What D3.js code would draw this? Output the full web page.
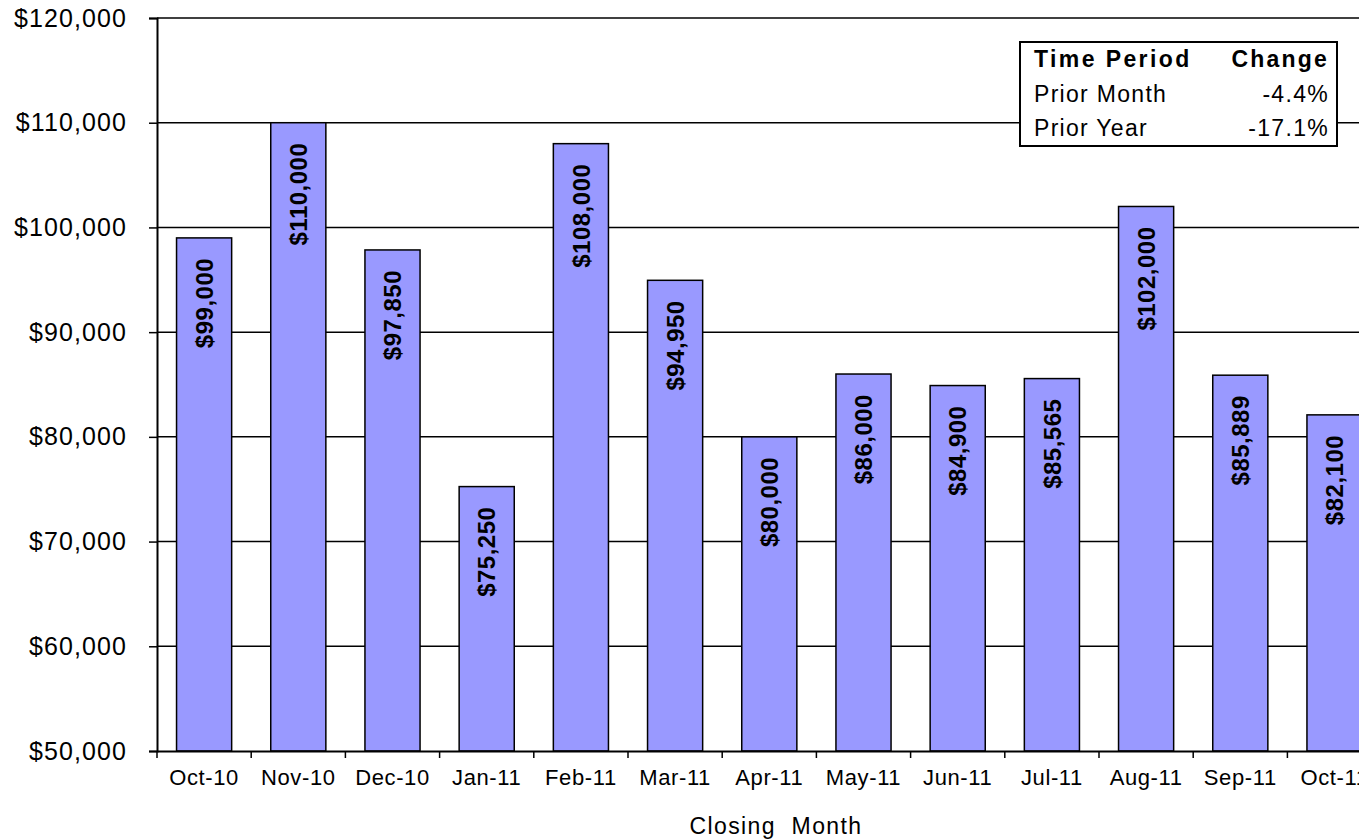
<!DOCTYPE html>
<html>
<head>
<meta charset="utf-8">
<script src="https://cdn.jsdelivr.net/npm/d3@7"></script>
<style>
  html, body { margin: 0; padding: 0; background: #fff; }
  svg { display: block; }
  text { font-family: "Liberation Sans", Arial, sans-serif; fill: #000; }
</style>
</head>
<body>
<svg id="chart" width="1359" height="840"></svg>
<script>
// Median closing price by month
const months = ["Oct-10", "Nov-10", "Dec-10", "Jan-11", "Feb-11", "Mar-11", "Apr-11",
                "May-11", "Jun-11", "Jul-11", "Aug-11", "Sep-11", "Oct-11"];
const prices = [99000, 110000, 97850, 75250, 108000, 94950, 80000,
                86000, 84900, 85565, 102000, 85889, 82100];
const yTicks = [50000, 60000, 70000, 80000, 90000, 100000, 110000, 120000];

// Change summary table
const periodLabels = ["Prior Month", "Prior Year"];
const periodChanges = ["-4.4%", "-17.1%"];

const svg = d3.select("#chart");
const plot = { left: 157, top: 18, bottom: 751, step: 94.2 };
const plotRight = plot.left + plot.step * months.length;

const x = d3.scaleBand()
  .domain(months)
  .range([plot.left, plotRight])
  .paddingInner(0.415)
  .paddingOuter(0.2075);

const y = d3.scaleLinear()
  .domain([50000, 120000])
  .range([plot.bottom, plot.top]);

const money = d3.format("$,.0f");

// Horizontal gridlines
svg.append("g")
  .selectAll("line")
  .data(yTicks.slice(1))
  .join("line")
  .attr("x1", plot.left)
  .attr("x2", plotRight)
  .attr("y1", d => y(d))
  .attr("y2", d => y(d))
  .attr("stroke", "#000")
  .attr("stroke-width", 1.5);

// Bars
svg.append("g")
  .selectAll("rect")
  .data(prices)
  .join("rect")
  .attr("x", (d, i) => x(months[i]))
  .attr("y", d => y(d))
  .attr("width", x.bandwidth())
  .attr("height", d => y(50000) - y(d))
  .attr("fill", "#9999FF")
  .attr("stroke", "#000")
  .attr("stroke-width", 1.5);

// Value labels, rotated inside the bars
svg.append("g")
  .selectAll("text")
  .data(prices)
  .join("text")
  .attr("transform", (d, i) =>
    `translate(${x(months[i]) + x.bandwidth() / 2},${y(d) + 20}) rotate(-90)`)
  .attr("text-anchor", "end")
  .attr("dy", "0.36em")
  .style("font-size", "24px")
  .style("font-weight", "bold")
  .style("letter-spacing", "0.5px")
  .text(d => money(d));

// Y axis
const yAxis = svg.append("g")
  .attr("transform", `translate(${plot.left},0)`)
  .call(d3.axisLeft(y).tickValues(yTicks).tickFormat(money).tickSize(8).tickPadding(22));
yAxis.select(".domain").attr("stroke", "#000").attr("stroke-width", 2);
yAxis.selectAll(".tick line").attr("stroke", "#000").attr("stroke-width", 1.5);
yAxis.selectAll(".tick text")
  .attr("font-family", null)
  .attr("font-size", null)
  .style("font-size", "25px")
  .style("letter-spacing", "1.1px");

// X axis with ticks between categories
const xAxis = svg.append("g")
  .attr("transform", `translate(0,${plot.bottom})`)
  .call(d3.axisBottom(x).tickSize(0).tickPadding(18));
xAxis.select(".domain").attr("stroke", "#000").attr("stroke-width", 2);
xAxis.selectAll(".tick text")
  .attr("font-family", null)
  .attr("font-size", null)
  .style("font-size", "22px")
  .style("letter-spacing", "0.6px");
xAxis.append("g")
  .selectAll("line")
  .data(months)
  .join("line")
  .attr("x1", d => x(d) - x.step() * x.paddingInner() / 2)
  .attr("x2", d => x(d) - x.step() * x.paddingInner() / 2)
  .attr("y1", 0)
  .attr("y2", 7)
  .attr("stroke", "#000")
  .attr("stroke-width", 1.5);

// Axis title
svg.append("text")
  .attr("x", 776)
  .attr("y", 834)
  .attr("text-anchor", "middle")
  .style("font-size", "23px")
  .style("letter-spacing", "1.4px")
  .style("white-space", "pre")
  .text("Closing  Month");

// Change summary table
const tbl = svg.append("g").attr("transform", "translate(1020,42)");
tbl.append("rect")
  .attr("width", 317)
  .attr("height", 104)
  .attr("fill", "#fff")
  .attr("stroke", "#000")
  .attr("stroke-width", 2);
tbl.append("text")
  .attr("x", 14).attr("y", 25)
  .style("font-size", "23px").style("font-weight", "bold").style("letter-spacing", "2.4px")
  .text("Time Period");
tbl.append("text")
  .attr("x", 309).attr("y", 25)
  .attr("text-anchor", "end")
  .style("font-size", "23px").style("font-weight", "bold").style("letter-spacing", "2.2px")
  .text("Change");
tbl.selectAll("text.period")
  .data(periodLabels)
  .join("text")
  .attr("class", "period")
  .attr("x", 14)
  .attr("y", (d, i) => 60 + i * 34)
  .style("font-size", "23px")
  .style("letter-spacing", "1.3px")
  .text(d => d);
tbl.selectAll("text.change")
  .data(periodChanges)
  .join("text")
  .attr("class", "change")
  .attr("x", 309)
  .attr("y", (d, i) => 60 + i * 34)
  .attr("text-anchor", "end")
  .style("font-size", "23px")
  .style("letter-spacing", "1.3px")
  .text(d => d);
</script>
</body>
</html>
